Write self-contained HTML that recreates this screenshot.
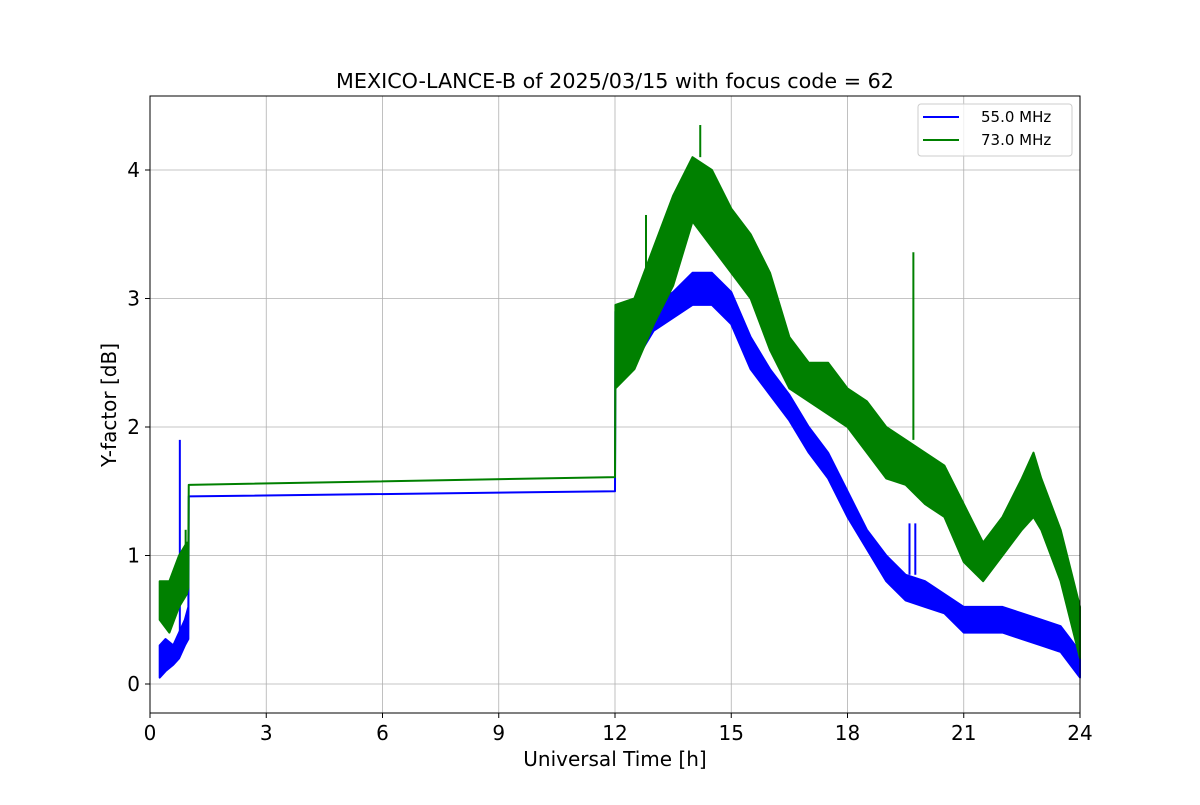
<!DOCTYPE html>
<html><head><meta charset="utf-8"><style>
body{margin:0;background:#fff;}
svg{font-family:"DejaVu Sans","Liberation Sans",sans-serif;}
</style></head><body>
<svg id="chart" width="1200" height="800" xmlns="http://www.w3.org/2000/svg">
<rect width="1200" height="800" fill="#fff"/>
<text x="615" y="88" font-size="20.7" text-anchor="middle">MEXICO-LANCE-B of 2025/03/15 with focus code = 62</text>
<g id="grid"></g>
<g id="series"></g>
<rect x="150" y="96" width="930" height="617" fill="none" stroke="#000" stroke-width="1"/>
<g id="ticks"></g>
<text x="615" y="766" font-size="20" text-anchor="middle">Universal Time [h]</text>
<text x="116" y="405" font-size="20" text-anchor="middle" transform="rotate(-90 116 405)">Y-factor [dB]</text>
<g>
<rect x="918" y="104" width="154" height="52" rx="3" fill="#fff" fill-opacity="0.8" stroke="#ccc"/>
<line x1="923" y1="117" x2="959" y2="117" stroke="blue" stroke-width="2"/>
<text x="981" y="122" font-size="15">55.0 MHz</text>
<line x1="923" y1="140" x2="959" y2="140" stroke="green" stroke-width="2"/>
<text x="981" y="145" font-size="15">73.0 MHz</text>
</g>
</svg>
<script>
const xTicks=[0,3,6,9,12,15,18,21,24];
const yTicks=[0,1,2,3,4];
const blueT=[0.25,0.4,0.6,0.75,0.9,0.99,1.0,12.0,12.01,12.5,13.0,13.5,14.0,14.5,15.0,15.5,16.0,16.5,17.0,17.5,18.0,18.5,19.0,19.5,20.0,20.5,21.0,21.5,22.0,22.5,23.0,23.5,24.0];
const blueLo=[0.05,0.1,0.15,0.2,0.3,0.35,1.46,1.50,2.4,2.5,2.75,2.85,2.95,2.95,2.8,2.45,2.25,2.05,1.8,1.6,1.3,1.05,0.8,0.65,0.6,0.55,0.4,0.4,0.4,0.35,0.3,0.25,0.05];
const blueHi=[0.3,0.35,0.3,0.4,0.5,0.6,1.46,1.50,2.9,2.9,2.95,3.05,3.2,3.2,3.05,2.7,2.45,2.25,2.0,1.8,1.5,1.2,1.0,0.85,0.8,0.7,0.6,0.6,0.6,0.55,0.5,0.45,0.25];
const blueSpikeT=[0.77,19.6,19.75];
const blueSpikeV=[1.9,1.25,1.25];
const greenT=[0.25,0.5,0.75,0.95,0.99,1.0,12.0,12.01,12.5,13.0,13.5,14.0,14.5,15.0,15.5,16.0,16.5,17.0,17.5,18.0,18.5,19.0,19.5,20.0,20.5,21.0,21.5,22.0,22.5,22.8,23.0,23.5,24.0];
const greenLo=[0.5,0.4,0.6,0.7,0.75,1.55,1.61,2.3,2.45,2.8,3.1,3.6,3.4,3.2,3.0,2.6,2.3,2.2,2.1,2.0,1.8,1.6,1.55,1.4,1.3,0.95,0.8,1.0,1.2,1.3,1.2,0.8,0.2];
const greenHi=[0.8,0.8,1.0,1.1,1.1,1.55,1.61,2.95,3.0,3.4,3.8,4.1,4.0,3.7,3.5,3.2,2.7,2.5,2.5,2.3,2.2,2.0,1.9,1.8,1.7,1.4,1.1,1.3,1.6,1.8,1.6,1.2,0.6];
const greenSpikeT=[0.92,12.8,14.2,19.7];
const greenSpikeV=[1.2,3.65,4.35,3.36];

const X=t=>150+t*(930/24);
const Y=v=>684-v*128.5;
const NS="http://www.w3.org/2000/svg";
const grid=document.getElementById('grid'),ticks=document.getElementById('ticks'),ser=document.getElementById('series');
function mk(tag,attrs,parent){const e=document.createElementNS(NS,tag);for(const k in attrs)e.setAttribute(k,attrs[k]);parent.appendChild(e);return e;}
xTicks.forEach(t=>{
 const g=mk('line',{x1:X(t),x2:X(t),y1:96,y2:713,stroke:'#b0b0b0','stroke-width':0.8},grid);
 
 
 mk('line',{x1:X(t),x2:X(t),y1:713,y2:718,stroke:'#000'},ticks);
 const tx=mk('text',{x:X(t),y:740,'font-size':20,'text-anchor':'middle'},ticks);
 tx.textContent=t;
 
 
});
yTicks.forEach(v=>{
 const g=mk('line',{x1:150,x2:1080,y1:Y(v),y2:Y(v),stroke:'#b0b0b0','stroke-width':0.8},grid);
 
 
 mk('line',{x1:145,x2:150,y1:Y(v),y2:Y(v),stroke:'#000'},ticks);
 const tx=mk('text',{x:140,y:Y(v)+7,'font-size':20,'text-anchor':'end'},ticks);
 tx.textContent=v;
 
 
});
function band(T,lo,hi,sT,sV,color,name){
 let d='';
 T.forEach((t,i)=>{d+=(i?'L':'M')+X(t)+' '+Y(hi[i]);});
 for(let i=T.length-1;i>=0;i--)d+='L'+X(T[i])+' '+Y(lo[i]);
 d+='Z';
 const p=mk('path',{d:d,fill:color,stroke:color,'stroke-width':2,'stroke-linejoin':'round'},ser);
 
 
 sT.forEach((t,i)=>{
  let k=0;while(k<T.length-1&&T[k+1]<t)k++;
  const s=mk('line',{x1:X(t),x2:X(t),y1:Y(hi[k]),y2:Y(sV[i]),stroke:color,'stroke-width':2},ser);
  
  
 });
}
band(blueT,blueLo,blueHi,blueSpikeT,blueSpikeV,'blue','series-55mhz');
band(greenT,greenLo,greenHi,greenSpikeT,greenSpikeV,'green','series-73mhz');
</script>
</body></html>
